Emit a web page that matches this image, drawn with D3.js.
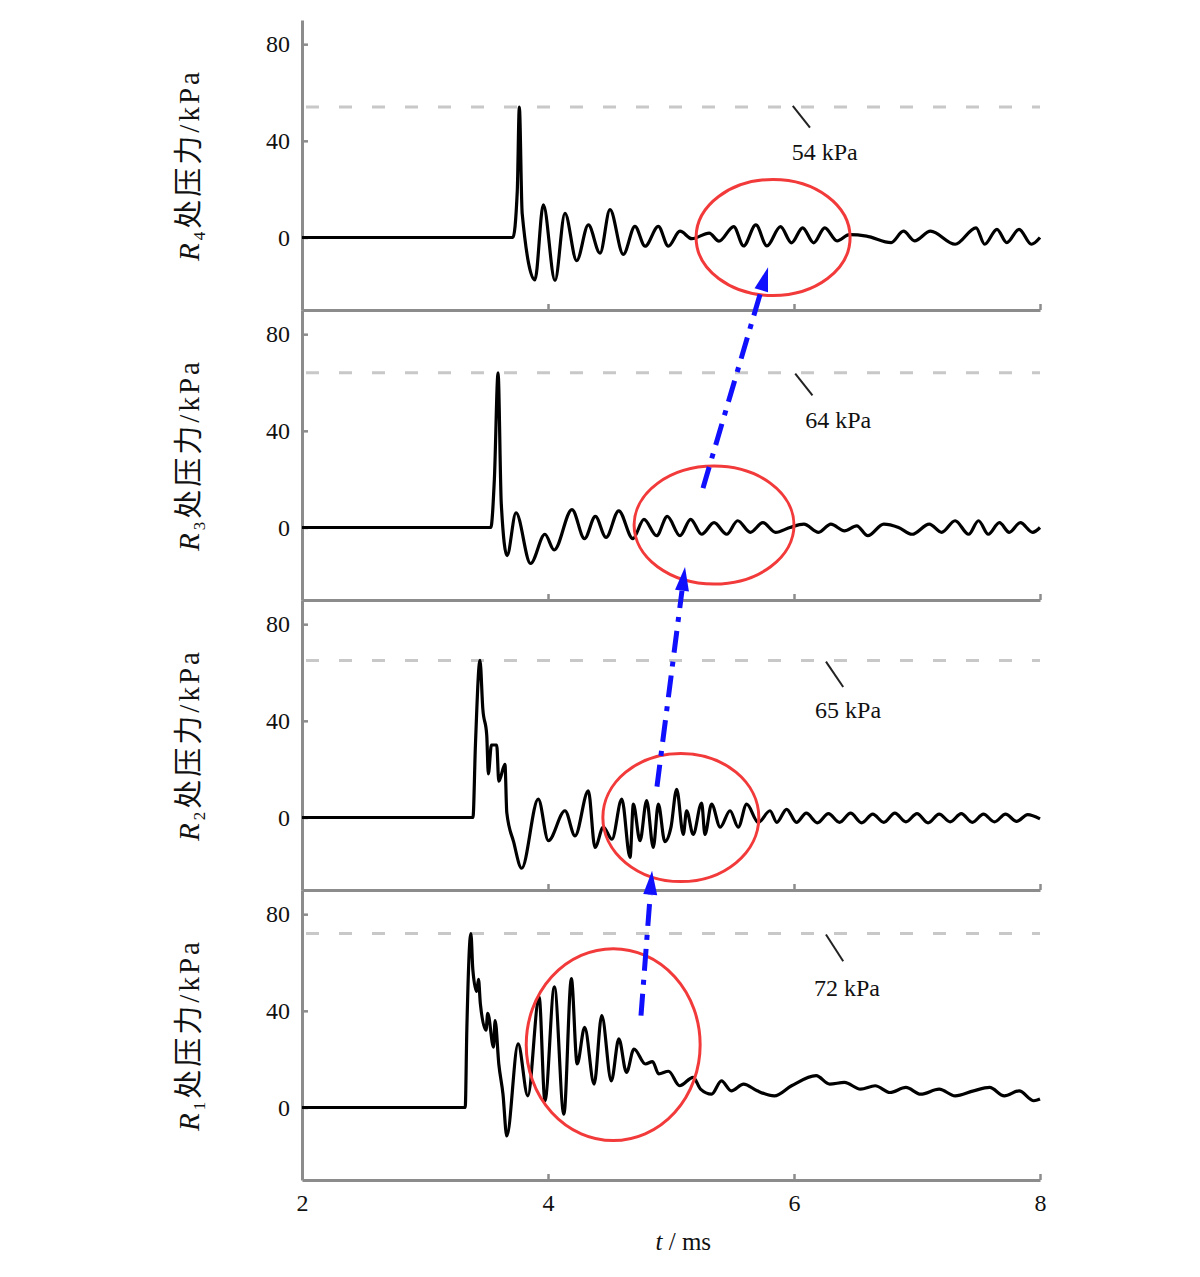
<!DOCTYPE html>
<html><head><meta charset="utf-8">
<script src="https://cdn.jsdelivr.net/npm/d3@7"></script>
<style>body{margin:0;background:#fff}</style>
</head><body><svg id="c" width="1200" height="1277"></svg>
<script>
// ---------------- data ----------------
const timeTicks = [2, 4, 6, 8];
const pressureTicks = [0, 40, 80];
const sensorSubs = ["4", "3", "2", "1"];
const peakValues = [54, 64, 65, 72];
const peakLabels = ["54 kPa", "64 kPa", "65 kPa", "72 kPa"];

// [t (ms), pressure (kPa)]
const r4 = [[2,0],[3.715,0],[3.75,19],[3.767,54],[3.79,10],[3.894,-17.5],[3.962,13.5],[4.057,-17.8],[4.138,10],[4.233,-9.6],[4.328,5.2],[4.423,-6.5],[4.504,11.5],[4.612,-7],[4.707,4.6],[4.789,-3.6],[4.897,4.6],[4.978,-3.6],[5.073,2.6],[5.17,-0.5],[5.31,1.8],[5.39,-1.5],[5.51,4.5],[5.59,-3.5],[5.69,5.2],[5.78,-3.5],[5.89,4.5],[5.98,-2.2],[6.07,4],[6.16,-2.2],[6.25,4],[6.35,-1.4],[6.45,1.2],[6.59,0.6],[6.79,-2.1],[6.89,2.6],[6.98,-1.4],[7.11,2.6],[7.31,-2.8],[7.48,4],[7.55,-2.8],[7.65,3.4],[7.73,-2.1],[7.83,3.4],[7.93,-2.8],[8,0]];
const r3 = [[2,0],[3.535,0],[3.564,20],[3.594,64],[3.62,10],[3.667,-11.6],[3.74,6.1],[3.858,-14.9],[3.975,-2.8],[4.05,-9.3],[4.195,7.4],[4.297,-4.6],[4.385,4.6],[4.472,-4.1],[4.575,6.9],[4.69,-4.6],[4.78,3.4],[4.883,-3.4],[4.97,4.6],[5.073,-3.4],[5.16,3.4],[5.249,-2.8],[5.35,2],[5.453,-2.8],[5.542,2.8],[5.645,-2],[5.747,2],[5.85,-2],[5.967,0],[6.08,1.4],[6.2,-2],[6.3,1.4],[6.41,-1.4],[6.51,0.7],[6.6,-3.4],[6.73,1.4],[6.85,0],[6.96,-2.8],[7.1,1.4],[7.2,-2],[7.31,2.8],[7.42,-2.8],[7.5,2.8],[7.58,-2.8],[7.67,2],[7.75,-2],[7.84,2],[7.94,-2],[8,0]];
const r2 = [[2,0],[3.39,0],[3.41,30],[3.447,65],[3.47,45],[3.502,34],[3.515,18],[3.54,30],[3.583,30],[3.6,15],[3.65,22],[3.665,2],[3.72,-10],[3.786,-21],[3.921,7.6],[4.003,-9.6],[4.138,2.8],[4.22,-7.6],[4.328,11],[4.382,-12.4],[4.45,-4],[4.52,-9],[4.6,7.6],[4.667,-16.5],[4.694,5.5],[4.748,-9.6],[4.802,7],[4.856,-12.4],[4.897,5.5],[4.95,-10],[5.0,-4],[5.046,11.7],[5.1,-7],[5.127,2.8],[5.18,-7],[5.249,6],[5.276,-7],[5.33,5.5],[5.4,-4],[5.48,2.8],[5.547,-4],[5.615,5.5],[5.71,-2],[5.805,2.8],[5.86,-2],[5.94,3.4],[6.02,-2],[6.1,1.8],[6.19,-2.2],[6.28,1.6],[6.37,-2],[6.46,1.8],[6.55,-2.2],[6.64,1.4],[6.73,-2],[6.82,1.8],[6.91,-1.8],[7.0,1.6],[7.09,-2.2],[7.18,1.4],[7.27,-1.8],[7.36,1.6],[7.45,-2],[7.54,1.4],[7.63,-1.8],[7.72,1.4],[7.81,-1.6],[7.9,1.2],[8,-0.6]];
const r1 = [[2,0],[3.327,0],[3.34,32],[3.373,72],[3.389,57],[3.42,48],[3.435,53],[3.45,43],[3.496,32],[3.51,39],[3.557,25],[3.57,36],[3.6,18],[3.634,5.5],[3.665,-11.8],[3.757,26.3],[3.836,4.8],[3.928,45.7],[3.975,2.8],[4.052,49.9],[4.129,-2.8],[4.19,53.3],[4.237,18],[4.298,33.2],[4.375,9.7],[4.437,38],[4.515,11],[4.576,28.4],[4.638,14.5],[4.699,24.2],[4.792,18],[4.85,19],[4.9,13.9],[4.98,15],[5.07,9],[5.18,12.5],[5.24,7.6],[5.33,5.5],[5.41,11],[5.49,6.9],[5.59,9.7],[5.7,6.9],[5.84,4.8],[5.98,9],[6.18,13.2],[6.29,9.7],[6.41,10.4],[6.54,7.6],[6.66,9],[6.78,6.2],[6.91,8.3],[7.03,5.5],[7.18,7.6],[7.31,4.8],[7.46,6.9],[7.59,8.3],[7.71,4.8],[7.83,6.9],[7.95,2.8],[8,3.5]];
const seriesList = [r4, r3, r2, r1];

// annotations (data coordinates)
const labelAnchors = [[6.25,32],[6.36,41],[6.44,41],[6.43,46]];
const leaderLines = [[[5.99,54.5],[6.13,45.5]],[[6.01,63.7],[6.15,54.7]],[[6.26,64.5],[6.4,54]],[[6.26,71.6],[6.4,60.5]]];
const ellipseSpecs = [[5.83,0,0.626,24],[5.35,1,0.65,24.4],[5.08,0,0.634,26.5],[4.53,26,0.707,39.7]];
// [panel, t, v] -> [panel, t, v]
const blueArrows = [[[3,4.756,38],[2,4.846,-22]],[[2,4.886,12.8],[1,5.114,-16.3]],[[1,5.26,16.3],[0,5.789,-12.3]]];

// ---------------- layout ----------------
const svg = d3.select("#c");
const left = 302, right = 1040, top0 = 20, panelH = 290;
const x = d3.scaleLinear().domain([2, 8]).range([left, right]);
const ys = seriesList.map((s, i) => d3.scaleLinear().domain([-30, 90]).range([top0 + panelH*(i+1), top0 + panelH*i]));
const axisColor = "#8c8c8c";
const serif = "'Liberation Serif','DejaVu Serif',serif";

seriesList.forEach((s, i) => {
  const y = ys[i];
  const g = svg.append("g");
  // dashed peak reference line
  g.append("line").attr("x1", x(2)+4).attr("x2", x(8)).attr("y1", y(peakValues[i])).attr("y2", y(peakValues[i]))
    .attr("stroke", "#c8c8c8").attr("stroke-width", 3).attr("stroke-dasharray", "13 20");
  // axes
  const ay = g.append("g").attr("transform", `translate(${left},0)`)
    .call(d3.axisLeft(y).tickValues(pressureTicks).tickSize(-6).tickSizeOuter(0).tickPadding(12).tickFormat(d3.format("d")));
  const ax = g.append("g").attr("transform", `translate(0,${y.range()[0]})`)
    .call(d3.axisBottom(x).tickValues(timeTicks).tickSize(-6).tickSizeOuter(0).tickPadding(14)
      .tickFormat(i === 3 ? d3.format("d") : () => ""));
  [ay, ax].forEach(a => {
    a.select(".domain").attr("stroke", axisColor).attr("stroke-width", 3);
    a.selectAll(".tick line").attr("stroke", axisColor).attr("stroke-width", 2.5);
    a.selectAll(".tick text").attr("fill", "#111").style("font-family", serif).style("font-size", "24px");
  });
  // trace
  g.append("path").datum(s)
    .attr("d", d3.line().curve(d3.curveMonotoneX).x(d => x(d[0])).y(d => y(d[1])))
    .attr("fill", "none").attr("stroke", "#000").attr("stroke-width", 3.2).attr("stroke-linejoin", "round");
  // red ellipse
  const e = ellipseSpecs[i];
  g.append("ellipse").attr("cx", x(e[0])).attr("cy", y(e[1]))
    .attr("rx", x(e[0]+e[2]) - x(e[0])).attr("ry", y(e[1]) - y(e[1]+e[3]))
    .attr("fill", "none").attr("stroke", "#f23a3a").attr("stroke-width", 3);
  // peak label + leader
  const L = leaderLines[i];
  g.append("line").attr("x1", x(L[0][0])).attr("y1", y(L[0][1])).attr("x2", x(L[1][0])).attr("y2", y(L[1][1]))
    .attr("stroke", "#222").attr("stroke-width", 2);
  g.append("text").attr("x", x(labelAnchors[i][0])).attr("y", y(labelAnchors[i][1]))
    .attr("text-anchor", "middle").style("font-family", serif).style("font-size", "24px").attr("fill", "#111")
    .text(peakLabels[i]);
  // y title
  const cy = (y.range()[0] + y.range()[1]) / 2;
  const t = g.append("text").attr("transform", `translate(199,${cy}) rotate(-90)`)
    .attr("text-anchor", "middle").style("font-size", "29px").style("letter-spacing", "3px").attr("fill", "#111");
  t.append("tspan").style("font-family", serif).style("font-style", "italic").text("R");
  t.append("tspan").style("font-family", serif).style("font-size", "17px").attr("dy", 6).text(sensorSubs[i]);
  t.append("tspan").style("font-family", "'Noto Sans CJK SC'").attr("dy", -6).text("\u5904\u538B\u529B");
  t.append("tspan").style("font-family", serif).text("/kPa");
});

// x title
const xt = svg.append("text").attr("x", x(5.1)).attr("y", 1250).attr("text-anchor", "middle")
  .style("font-family", serif).style("font-size", "25px").attr("fill", "#111");
xt.append("tspan").style("font-style", "italic").text("t");
xt.append("tspan").text(" / ms");

// blue dash-dot arrows
const blue = "#1010ff";
blueArrows.forEach(([a, b]) => {
  const x1 = x(a[1]), y1 = ys[a[0]](a[2]), x2 = x(b[1]), y2 = ys[b[0]](b[2]);
  const dx = x2 - x1, dy = y2 - y1, len = Math.hypot(dx, dy), ux = dx/len, uy = dy/len;
  const hl = 24, hw = 7;
  const bx = x2 - ux*hl, by = y2 - uy*hl;
  svg.append("line").attr("x1", x1).attr("y1", y1).attr("x2", bx).attr("y2", by)
    .attr("stroke", blue).attr("stroke-width", 5).attr("stroke-dasharray", "22 9 5 9");
  svg.append("path").attr("d", `M${x2},${y2}L${bx - uy*hw},${by + ux*hw}L${bx + uy*hw},${by - ux*hw}Z`).attr("fill", blue);
});
</script></body></html>
